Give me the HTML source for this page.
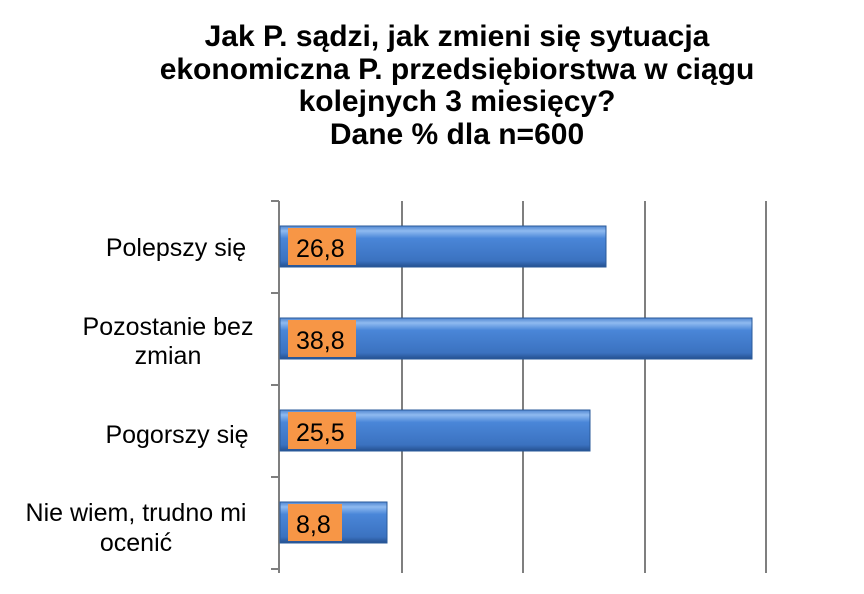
<!DOCTYPE html>
<html><head><meta charset="utf-8"><style>
body{margin:0;background:#fff;}
svg{display:block;font-family:"Liberation Sans",sans-serif;}
</style></head><body>
<svg width="864" height="594" viewBox="0 0 864 594">
<defs>
<linearGradient id="g" x1="0" y1="0" x2="0" y2="1">
<stop offset="0" stop-color="#4f86d0"/>
<stop offset="0.12" stop-color="#8fbaf0"/>
<stop offset="0.3" stop-color="#4a86d8"/>
<stop offset="0.85" stop-color="#3b72c0"/>
<stop offset="1" stop-color="#24508f"/>
</linearGradient>
</defs>
<g font-weight="bold" font-size="30" text-anchor="middle" fill="#000">
<text x="457" y="46">Jak P. sądzi, jak zmieni się sytuacja</text>
<text x="457" y="79">ekonomiczna P. przedsiębiorstwa w ciągu</text>
<text x="457" y="111">kolejnych 3 miesięcy?</text>
<text x="457" y="144">Dane % dla n=600</text>
</g>
<g stroke="#7f7f7f" stroke-width="2">
<line x1="402" y1="201" x2="402" y2="573"/>
<line x1="523" y1="201" x2="523" y2="573"/>
<line x1="645" y1="201" x2="645" y2="573"/>
<line x1="766" y1="201" x2="766" y2="573"/>
<line x1="279" y1="201" x2="279" y2="573"/>
<line x1="271" y1="201" x2="279" y2="201"/>
<line x1="271" y1="293" x2="279" y2="293"/>
<line x1="271" y1="385" x2="279" y2="385"/>
<line x1="271" y1="477" x2="279" y2="477"/>
<line x1="271" y1="569" x2="279" y2="569"/>
</g>
<g>
<rect x="280" y="226" width="326" height="41" fill="url(#g)" stroke="#2a5a9a" stroke-width="1"/>
<rect x="280" y="318" width="472" height="41" fill="url(#g)" stroke="#2a5a9a" stroke-width="1"/>
<rect x="280" y="410" width="310" height="41" fill="url(#g)" stroke="#2a5a9a" stroke-width="1"/>
<rect x="280" y="502" width="107" height="41" fill="url(#g)" stroke="#2a5a9a" stroke-width="1"/>
</g>
<g fill="#f79646">
<rect x="288" y="228" width="68" height="37"/>
<rect x="288" y="320" width="68" height="37"/>
<rect x="288" y="412" width="68" height="37"/>
<rect x="288" y="504" width="54" height="37"/>
</g>
<g font-size="25" fill="#000">
<text x="296" y="257">26,8</text>
<text x="296" y="349">38,8</text>
<text x="296" y="441">25,5</text>
<text x="296" y="533">8,8</text>
</g>
<g font-size="25" fill="#000" text-anchor="middle">
<text x="176" y="256">Polepszy się</text>
<text x="168" y="335">Pozostanie bez</text>
<text x="168" y="364">zmian</text>
<text x="177" y="443">Pogorszy się</text>
<text x="136" y="521">Nie wiem, trudno mi</text>
<text x="136" y="551">ocenić</text>
</g>
</svg>
</body></html>
